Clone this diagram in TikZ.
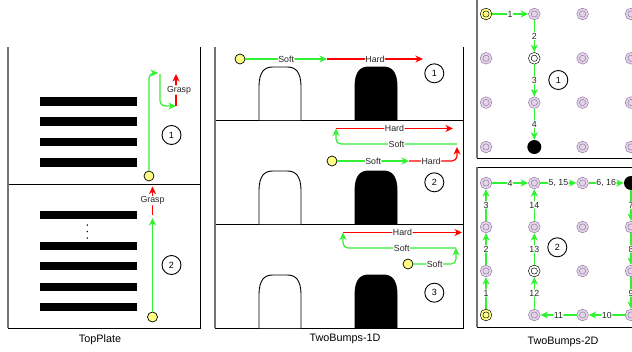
\documentclass[tikz,border=0pt]{standalone}
\usepackage{fontspec}
\setmainfont{Liberation Sans}
\usetikzlibrary{arrows.meta}
\definecolor{grn}{HTML}{33F033}
\definecolor{ylw}{HTML}{FFFF88}
\definecolor{pstroke}{HTML}{9673A6}
\definecolor{pfill}{HTML}{E1D5E7}
\tikzset{
  tipx/.tip={Stealth[length=7.5pt,width=7pt,inset=2.2pt]},
  gline/.style={draw=grn, line width=1.2pt, -tipx, rounded corners=5pt},
  rline/.style={draw=red, line width=1.2pt, -tipx, rounded corners=5pt},
  lbl/.style={fill=white, inner sep=0.6pt, text=black!85, font=\fontsize{8.8}{9}\selectfont},
  startpt/.style={circle, draw=black, fill=ylw, minimum size=10pt, inner sep=0pt, line width=0.7pt},
  numc/.style={circle, draw=black, minimum size=19pt, inner sep=0pt, line width=0.9pt, font=\fontsize{9}{10}\selectfont},
  bar/.style={fill=black},
  gnode/.style={circle, draw=pstroke, double=pfill, double distance=1.8pt, fill=pfill, line width=0.6pt, minimum size=9pt, inner sep=0pt, outer sep=1.6pt},
  ystart/.style={gnode, draw=black, double=ylw, fill=ylw},
  wnode/.style={gnode, draw=black, double=white, fill=white},
  bnode/.style={circle, fill=black, minimum size=14pt, inner sep=0pt},
  caption/.style={font=\fontsize{10.8}{12}\selectfont},
  frame/.style={draw=black, line width=0.9pt},
  gframe/.style={draw=black!55, line width=1.6pt},
  bumppic/.pic={\path[pic actions] (0,53) -- (0,20) .. controls (0,4) and (6,0) .. (14,0) -- (28,0) .. controls (36,0) and (42,4) .. (42,20) -- (42,53);}
}
\begin{document}
\begin{tikzpicture}[x=1pt,y=-1pt]
\useasboundingbox (0,0) rectangle (632,351);
\clip (0,0) rectangle (632,351);

% ---------- TopPlate ----------
\draw[frame] (8,328) -- (200,328) -- (200,47);
\draw[frame] (8,184) -- (200,184);
\draw[gframe] (8,47) -- (8,328);
\foreach \yy in {97,117.3,137.8,158.3} \fill[bar] (40,\yy) rectangle (137,\yy+8.5);
\foreach \yy in {211,241.5,261.8,282.5,302.7} \fill[bar] (40,\yy) rectangle (137,\yy+8.3);
\foreach \yy in {225,231.5,238} \fill (87.3,\yy) circle (0.8);

\node[numc] (n1) at (171.5,135) {1};
\node[numc] (n2) at (171.5,265) {2};

\node[startpt] (s1) at (149,176) {};
\coordinate (a1) at (158,73);
\coordinate (a2) at (160,74);
\coordinate (a3) at (176,106);
\coordinate (a4) at (176,74);
\draw[gline] (s1) |- (a1);
\draw[gline] (a2) |- (a3);
\draw[rline] (a3) -- node[lbl, xshift=3pt]{Grasp} (a4);

\node[startpt] (s2) at (152.5,317) {};
\coordinate (b1) at (152.5,218);
\coordinate (b2) at (152.5,215);
\coordinate (b3) at (152.5,186.5);
\draw[gline] (s2) -- (b1);
\draw[rline] (b2) -- node[lbl]{Grasp} (b3);

\node[caption] (c1) at (100,340) {TopPlate};

% ---------- TwoBumps-1D ----------
\draw[frame] (215,328) -- (463,328) -- (463,47);
\draw[frame] (215,120) -- (463,120);
\draw[frame] (215,224) -- (463,224);
\pic[draw=black, fill=white, line width=0.9pt] at (259,67) {bumppic};
\pic[draw=black, fill=black, line width=0.9pt] at (355,67) {bumppic};
\pic[draw=black, fill=white, line width=0.9pt] at (259,171) {bumppic};
\pic[draw=black, fill=black, line width=0.9pt] at (355,171) {bumppic};
\pic[draw=black, fill=white, line width=0.9pt] at (259,275) {bumppic};
\pic[draw=black, fill=black, line width=0.9pt] at (355,275) {bumppic};
\draw[gframe] (215,47) -- (215,328);

\node[numc] (m1) at (434.3,73.3) {1};
\node[numc] (m2) at (434.3,182.3) {2};
\node[numc] (m3) at (434.3,292.7) {3};

% panel 1
\node[startpt] (s3) at (240,59) {};
\coordinate (p1) at (327,59);
\coordinate (p2) at (423,59);
\draw[gline] (s3) -- node[lbl]{Soft} (p1);
\draw[rline] (p1) -- node[lbl]{Hard} (p2);

% panel 2
\node[startpt] (s4) at (332,161) {};
\coordinate (q1) at (409,161);
\coordinate (q2) at (457,147);
\coordinate (q3) at (457,144);
\coordinate (q4) at (336,128.5);
\coordinate (q5) at (453,128.5);
\draw[gline] (s4) -- node[lbl]{Soft} (q1);
\draw[rline] (q1) -| node[lbl, pos=0.23]{Hard} (q2);
\draw[gline] (q3) -| node[lbl, pos=0.25]{Soft} (q4);
\draw[rline] (q4) -- node[lbl]{Hard} (q5);

% panel 3
\node[startpt] (s5) at (408,264) {};
\coordinate (r1) at (456,248);
\coordinate (r2) at (343,232.5);
\coordinate (r3) at (462,232.5);
\draw[gline] (s5) -| node[lbl, pos=0.25]{Soft} (r1);
\draw[gline] (r1) -| node[lbl, pos=0.24]{Soft} (r2);
\draw[rline] (r2) -- node[lbl]{Hard} (r3);

\node[caption] (c2) at (345,339) {TwoBumps-1D};

% ---------- TwoBumps-2D ----------
\draw[frame] (477,158) -- (640,158);
\draw[gframe] (477,0) -- (477,158);
\draw[frame] (640,167) -- (477,167);
\draw[frame] (477,327) -- (640,327);
\draw[gframe] (477,167) -- (477,327);

% top grid
\node[ystart] (t11) at (486,14) {};
\node[gnode] (t12) at (486,58.3) {};
\node[gnode] (t13) at (486,102.6) {};
\node[gnode] (t14) at (486,147) {};
\node[gnode] (t21) at (534.3,14) {};
\node[wnode] (t22) at (534.3,58.3) {};
\node[gnode] (t23) at (534.3,102.6) {};
\node[bnode] (t24) at (534.3,147) {};
\node[gnode] (t31) at (582.6,14) {};
\node[gnode] (t32) at (582.6,58.3) {};
\node[gnode] (t33) at (582.6,102.6) {};
\node[gnode] (t34) at (582.6,147) {};
\node[gnode] (t41) at (631,14) {};
\node[gnode] (t42) at (631,58.3) {};
\node[gnode] (t43) at (631,102.6) {};
\node[gnode] (t44) at (631,147) {};
\node[numc] (k1) at (558.3,80) {1};
\draw[gline] (t11) -- node[lbl]{1} (t21);
\draw[gline] (t21) -- node[lbl]{2} (t22);
\draw[gline] (t22) -- node[lbl]{3} (t23);
\draw[gline] (t23) -- node[lbl]{4} (t24);

% bottom grid
\node[gnode] (u11) at (486,183) {};
\node[gnode] (u12) at (486,227) {};
\node[gnode] (u13) at (486,271) {};
\node[ystart] (u14) at (486,315) {};
\node[gnode] (u21) at (534.3,183) {};
\node[gnode] (u22) at (534.3,227) {};
\node[wnode] (u23) at (534.3,271) {};
\node[gnode] (u24) at (534.3,315) {};
\node[gnode] (u31) at (582.6,183) {};
\node[gnode] (u32) at (582.6,227) {};
\node[gnode] (u33) at (582.6,271) {};
\node[gnode] (u34) at (582.6,315) {};
\node[bnode] (u41) at (631,183) {};
\node[gnode] (u42) at (631,227) {};
\node[gnode] (u43) at (631,271) {};
\node[gnode] (u44) at (631,315) {};
\node[numc] (k2) at (557.3,247.3) {2};
\draw[gline] (u14) -- node[lbl]{1} (u13);
\draw[gline] (u13) -- node[lbl]{2} (u12);
\draw[gline] (u12) -- node[lbl]{3} (u11);
\draw[gline] (u11) -- node[lbl]{4} (u21);
\draw[gline] (u21) -- node[lbl]{5, 15} (u31);
\draw[gline] (u31) -- node[lbl]{6, 16} (u41);
\draw[gline] (u41) -- node[lbl]{7} (u42);
\draw[gline] (u42) -- node[lbl]{8} (u43);
\draw[gline] (u43) -- node[lbl]{9} (u44);
\draw[gline] (u44) -- node[lbl]{10} (u34);
\draw[gline] (u34) -- node[lbl]{11} (u24);
\draw[gline] (u24) -- node[lbl]{12} (u23);
\draw[gline] (u23) -- node[lbl]{13} (u22);
\draw[gline] (u22) -- node[lbl]{14} (u21);

\node[caption] (c3) at (563,342) {TwoBumps-2D};
\end{tikzpicture}
\end{document}
